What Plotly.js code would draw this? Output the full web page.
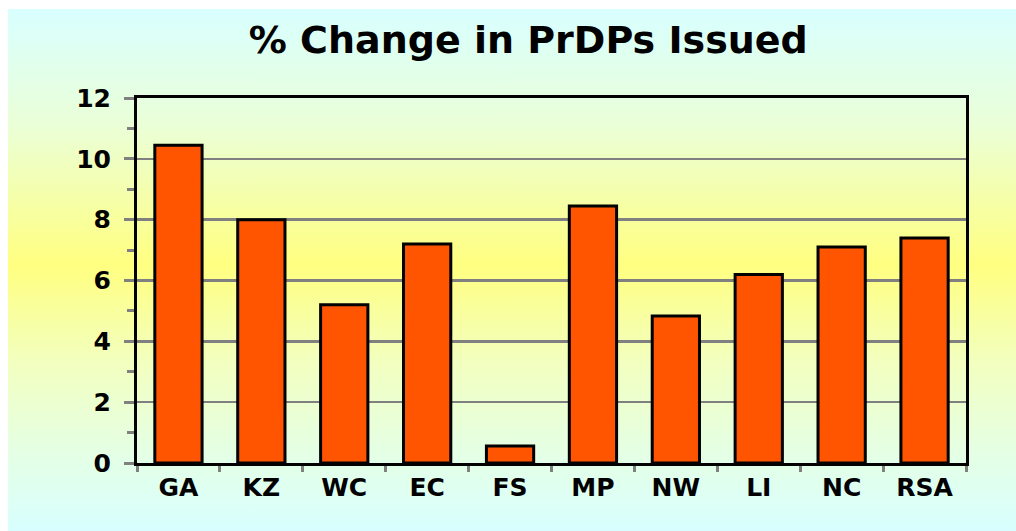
<!DOCTYPE html>
<html>
<head>
<meta charset="utf-8">
<script src="https://cdn.plot.ly/plotly-3.0.1.min.js"></script>
<style>
  html, body { margin:0; padding:0; background:#ffffff; }
  #bg { position:absolute; left:8px; top:9px; width:1008px; height:522px;
        background: linear-gradient(to bottom, #d8ffff 0%, #eaffd8 22%, #ffff80 49%, #f2ffc0 68%, #e4ffe4 85%, #d8ffff 100%); }
  #chart { position:absolute; left:0; top:0; width:1016px; height:531px; }
</style>
</head>
<body>
<div id="bg"></div>
<div id="chart"></div>
<script>
const categories = ["GA", "KZ", "WC", "EC", "FS", "MP", "NW", "LI", "NC", "RSA"];
const pctChange = [10.45, 8.0, 5.2, 7.2, 0.56, 8.45, 4.83, 6.2, 7.1, 7.4];
const yTickValues = [0, 2, 4, 6, 8, 10, 12];
const titleText = "% Change in PrDPs Issued";

const trace = {
  type: "bar",
  x: categories,
  y: pctChange,
  width: 0.57,
  marker: { color: "#ff5500", line: { color: "#000000", width: 3 } },
  hoverinfo: "x+y"
};

const fontFam = "DejaVu Sans, Liberation Sans, Arial, sans-serif";

const layout = {
  width: 1016, height: 531,
  paper_bgcolor: "rgba(0,0,0,0)",
  plot_bgcolor: "rgba(0,0,0,0)",
  margin: { l: 137, r: 50, t: 98, b: 68 },
  showlegend: false,
  title: {
    text: "<b>" + titleText + "</b>",
    x: 0.52, xanchor: "center", y: 0.925, yanchor: "middle",
    font: { family: fontFam, size: 38, color: "#000000" }
  },
  xaxis: {
    type: "category",
    showline: true, linecolor: "#000000", linewidth: 3, mirror: true,
    ticks: "outside", tickson: "boundaries", ticklen: 6, tickcolor: "#808080", tickwidth: 3,
    showgrid: false, zeroline: false,
    tickfont: { family: fontFam, size: 25, color: "#000000", weight: "bold" }
  },
  yaxis: {
    range: [0, 12],
    tickvals: yTickValues,
    ticktext: yTickValues.map(String),
    showline: true, linecolor: "#000000", linewidth: 3, mirror: true,
    ticks: "outside", ticklen: 10, tickcolor: "#808080", tickwidth: 3,
    minor: { dtick: 1, tick0: 1, ticks: "outside", ticklen: 7, tickcolor: "#808080", tickwidth: 3, showgrid: false },
    showgrid: true, gridcolor: "#808080", gridwidth: 2.5,
    zeroline: false,
    ticklabelstandoff: 8,
    tickfont: { family: fontFam, size: 25, color: "#000000", weight: "bold" }
  }
};

Plotly.newPlot("chart", [trace], layout, { displayModeBar: false, staticPlot: true });
</script>
</body>
</html>
